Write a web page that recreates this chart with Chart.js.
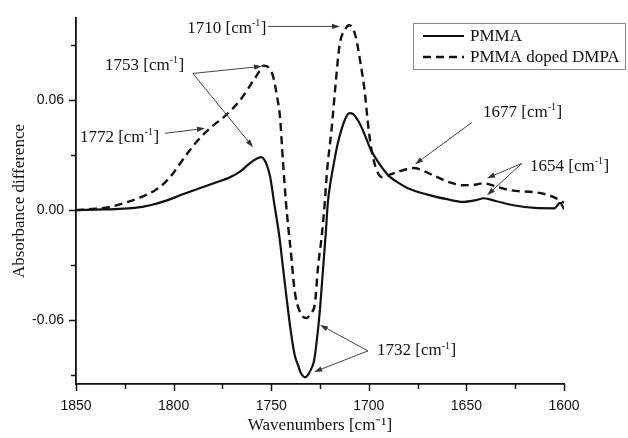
<!DOCTYPE html>
<html>
<head>
<meta charset="utf-8">
<script src="https://cdn.jsdelivr.net/npm/chart.js@4.4.1/dist/chart.umd.min.js"></script>
<style>
  html, body { margin: 0; padding: 0; background: #fff; }
</style>
</head>
<body>
<canvas id="chart" width="628" height="438"></canvas>
<script>
// --- data ---
const pmmaWave = [1850, 1840, 1830, 1820, 1812, 1803, 1795, 1786, 1778, 1772, 1766, 1761, 1757, 1755, 1753.5, 1752,
  1750.5, 1748.5, 1746, 1744, 1742, 1740, 1738, 1736, 1735, 1734, 1733, 1732, 1731, 1730, 1729, 1728, 1726.5, 1725, 1723.5, 1722,
  1721, 1719.5, 1718, 1716, 1714, 1712, 1710, 1708, 1705, 1702, 1699, 1695, 1690, 1685, 1680, 1670, 1660, 1652,
  1645, 1641, 1635, 1626, 1615, 1605, 1602, 1600];
const pmmaAbs = [0.000, 0.0003, 0.0006, 0.0012, 0.0027, 0.0055, 0.0088, 0.0122, 0.0152, 0.0175, 0.021, 0.0256, 0.0283, 0.029, 0.0275, 0.024,
  0.018, 0.004, -0.013, -0.031, -0.049, -0.066, -0.079, -0.0855, -0.0885, -0.0903, -0.0912, -0.091, -0.0898, -0.0878, -0.0855, -0.082, -0.070, -0.054, -0.033, -0.012,
  0.004, 0.016, 0.025, 0.036, 0.044, 0.050, 0.053, 0.0525, 0.048, 0.041, 0.033, 0.026, 0.019, 0.015, 0.012, 0.0085, 0.006, 0.0045,
  0.0055, 0.0065, 0.005, 0.0027, 0.0012, 0.001, 0.004, 0.0005];

const dmpaWave = [1850, 1840, 1833, 1825, 1817, 1810, 1805, 1800, 1793, 1786, 1780, 1773, 1766, 1759, 1756, 1754, 1752,
  1749, 1747, 1745.5, 1744, 1742.5, 1741, 1740, 1738, 1735.5, 1732, 1729.5, 1727.6, 1726, 1724, 1722.5, 1721.5,
  1719, 1717, 1715, 1712, 1710, 1707, 1704.5, 1702, 1700.4, 1698.6, 1696, 1693, 1689, 1685, 1677, 1667, 1658,
  1652, 1645, 1641.5, 1635, 1628, 1612, 1605, 1600];
const dmpaAbs = [0.000, 0.0008, 0.0016, 0.004, 0.007, 0.0105, 0.0145, 0.0205, 0.031, 0.040, 0.046, 0.052, 0.060, 0.071, 0.076, 0.079, 0.0785,
  0.073, 0.062, 0.051, 0.027, 0.005, -0.012, -0.022, -0.044, -0.055, -0.059, -0.056, -0.051, -0.031, -0.013, 0.005, 0.020,
  0.045, 0.069, 0.090, 0.099, 0.101, 0.096, 0.082, 0.064, 0.047, 0.033, 0.022, 0.018, 0.0195, 0.021, 0.023, 0.019, 0.015,
  0.0136, 0.014, 0.0147, 0.013, 0.011, 0.0093, 0.007, 0.004];

const seriesNames = ['PMMA', 'PMMA doped DMPA'];
const xTickValues = [1850, 1825, 1800, 1775, 1750, 1725, 1700, 1675, 1650, 1625, 1600];
const xTickLabels = ['1850', '1800', '1750', '1700', '1650', '1600'];
const yTickValues = [-0.09, -0.06, -0.03, 0, 0.03, 0.06, 0.09];
const yTickLabels = ['-0.06', '0.00', '0.06'];

// peak labels with arrows (data units)
const peakNotes = [
  { num: '1710', at: [1752.7, 0.0993], align: 'right', from: [1751.6, 0.1004], to: [[1714.8, 0.1004]] },
  { num: '1753', at: [1835.1, 0.0791], align: 'left', from: [1790.1, 0.0747], to: [[1754.7, 0.0786], [1759.3, 0.0344]] },
  { num: '1772', at: [1848.0, 0.0398], align: 'left', from: [1804.4, 0.0420], to: [[1783.9, 0.0447]] },
  { num: '1677', at: [1641.5, 0.0535], align: 'left', from: [1647.1, 0.0480], to: [[1676.3, 0.0251]] },
  { num: '1654', at: [1617.4, 0.0240], align: 'left', from: [1621.5, 0.0256], to: [[1639.4, 0.0175], [1639.4, 0.0082]] },
  { num: '1732', at: [1695.8, -0.0769], align: 'left', from: [1700.4, -0.0769], to: [[1725.0, -0.0627], [1728.0, -0.0884]] }
];

const toPoints = (xs, ys) => xs.map((x, i) => ({ x: x, y: ys[i] }));

const SERIF = '"Liberation Serif", "Times New Roman", serif';
Chart.defaults.font.family = '"Liberation Sans", Arial, sans-serif';
Chart.defaults.color = '#111';

function drawCmLabel(ctx, num, x, y, align) {
  const main = '17px ' + SERIF, sup = '10px ' + SERIF;
  ctx.font = main;
  const w1 = ctx.measureText(num + ' [cm').width;
  ctx.font = sup;
  const w2 = ctx.measureText('-1').width;
  ctx.font = main;
  const w3 = ctx.measureText(']').width;
  const x0 = align === 'right' ? x - (w1 + w2 + w3) : x;
  ctx.textAlign = 'left';
  ctx.textBaseline = 'middle';
  ctx.fillText(num + ' [cm', x0, y);
  ctx.font = sup;
  ctx.fillText('-1', x0 + w1, y - 5);
  ctx.font = main;
  ctx.fillText(']', x0 + w1 + w2 + 0.5, y);
}

function arrow(ctx, x1, y1, x2, y2) {
  const a = Math.atan2(y2 - y1, x2 - x1);
  ctx.beginPath();
  ctx.moveTo(x1, y1);
  ctx.lineTo(x2 - 6 * Math.cos(a), y2 - 6 * Math.sin(a));
  ctx.stroke();
  ctx.beginPath();
  ctx.moveTo(x2, y2);
  ctx.lineTo(x2 - 8 * Math.cos(a) + 2.6 * Math.sin(a), y2 - 8 * Math.sin(a) - 2.6 * Math.cos(a));
  ctx.lineTo(x2 - 8 * Math.cos(a) - 2.6 * Math.sin(a), y2 - 8 * Math.sin(a) + 2.6 * Math.cos(a));
  ctx.closePath();
  ctx.fill();
}

const extras = {
  id: 'extras',
  afterDraw(chart) {
    const ctx = chart.ctx;
    const xs = chart.scales.x, ys = chart.scales.y;
    const area = chart.chartArea;
    ctx.save();

    // tick marks, outward
    ctx.strokeStyle = '#111';
    ctx.lineWidth = 1.5;
    xTickValues.forEach(v => {
      const px = Math.round(xs.getPixelForValue(v)) + 0.5;
      const len = v % 50 === 0 ? 7 : 5;
      ctx.beginPath();
      ctx.moveTo(px, area.bottom);
      ctx.lineTo(px, area.bottom + len);
      ctx.stroke();
    });
    yTickValues.forEach(v => {
      const py = Math.round(ys.getPixelForValue(v)) + 0.5;
      const major = Math.abs(Math.round(v / 0.06) * 0.06 - v) < 1e-6;
      ctx.beginPath();
      ctx.moveTo(area.left - (major ? 7 : 5), py);
      ctx.lineTo(area.left, py);
      ctx.stroke();
    });

    // legend box
    const bx = 413, by = 23, bw = 212, bh = 46;
    ctx.strokeStyle = '#888';
    ctx.lineWidth = 1;
    ctx.strokeRect(bx + 0.5, by + 0.5, bw, bh);
    chart.data.datasets.forEach((ds, i) => {
      const ly = by + 13 + i * 21;
      ctx.strokeStyle = ds.borderColor;
      ctx.lineWidth = ds.borderWidth;
      ctx.setLineDash(ds.borderDash || []);
      ctx.beginPath();
      ctx.moveTo(bx + 10, ly);
      ctx.lineTo(bx + 51, ly);
      ctx.stroke();
      ctx.setLineDash([]);
      ctx.fillStyle = '#111';
      ctx.font = '17px ' + SERIF;
      ctx.textAlign = 'left';
      ctx.textBaseline = 'middle';
      ctx.fillText(ds.label, bx + 57, ly + 1);
    });

    // peak labels
    ctx.fillStyle = '#111';
    ctx.strokeStyle = '#444';
    ctx.lineWidth = 1;
    peakNotes.forEach(n => {
      drawCmLabel(ctx, n.num, xs.getPixelForValue(n.at[0]), ys.getPixelForValue(n.at[1]), n.align);
      const fx = xs.getPixelForValue(n.from[0]), fy = ys.getPixelForValue(n.from[1]);
      ctx.fillStyle = '#333';
      n.to.forEach(t => arrow(ctx, fx, fy, xs.getPixelForValue(t[0]), ys.getPixelForValue(t[1])));
      ctx.fillStyle = '#111';
    });
    ctx.restore();
  }
};

new Chart(document.getElementById('chart'), {
  type: 'line',
  data: {
    datasets: [
      {
        label: seriesNames[0],
        data: toPoints(pmmaWave, pmmaAbs),
        borderColor: '#111',
        borderWidth: 2.2,
        pointRadius: 0,
        cubicInterpolationMode: 'monotone',
        fill: false
      },
      {
        label: seriesNames[1],
        data: toPoints(dmpaWave, dmpaAbs),
        borderColor: '#111',
        borderWidth: 2.4,
        borderDash: [8, 5],
        pointRadius: 0,
        cubicInterpolationMode: 'monotone',
        fill: false
      }
    ]
  },
  options: {
    responsive: false,
    animation: false,
    layout: { padding: { top: 18, right: 64, left: 0, bottom: 0 } },
    plugins: { legend: { display: false }, tooltip: { enabled: false } },
    scales: {
      x: {
        type: 'linear',
        reverse: true,
        min: 1600,
        max: 1850,
        afterBuildTicks: s => { s.ticks = xTickValues.map(v => ({ value: v })); },
        afterFit: s => { s.height = 54; },
        grid: { display: false },
        border: { display: true, color: '#111', width: 1.8 },
        ticks: {
          padding: 6,
          maxRotation: 0,
          autoSkip: false,
          font: { size: 14 },
          callback: v => (xTickLabels.includes(String(v)) ? String(v) : '')
        },
        title: {
          display: true,
          text: 'Wavenumbers [cm⁻¹]',
          font: { family: SERIF, size: 17 },
          padding: { top: 0, bottom: 2 }
        }
      },
      y: {
        min: -0.095,
        max: 0.105,
        afterBuildTicks: s => { s.ticks = yTickValues.map(v => ({ value: v })); },
        afterFit: s => { s.width = 76; },
        grid: { display: false },
        border: { display: true, color: '#111', width: 1.8 },
        ticks: {
          padding: 4,
          autoSkip: false,
          font: { size: 14 },
          callback: v => {
            const t = Math.abs(v) < 1e-9 ? '0.00' : v.toFixed(2);
            return yTickLabels.includes(t) ? t : '';
          }
        },
        title: {
          display: true,
          text: 'Absorbance difference',
          font: { family: SERIF, size: 17 },
          padding: { top: 9, bottom: 0 }
        }
      }
    }
  },
  plugins: [extras]
});
</script>
</body>
</html>
